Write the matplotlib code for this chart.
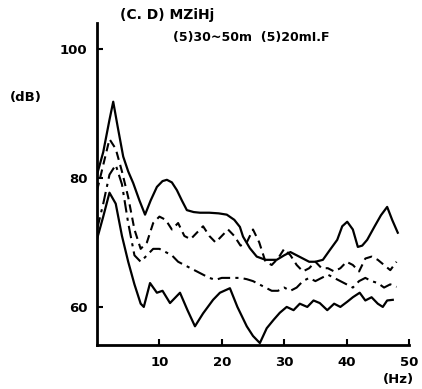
import matplotlib
matplotlib.use("Agg")
import matplotlib.pyplot as plt

# Frequency (Hz) / level (dB) pairs for each spectrum
freq_a = [0, 1, 2, 2.6, 3.3, 4.2, 5, 5.8, 6.8, 7.7, 8.6, 9.6, 10.5, 11.2, 12, 12.8, 13.6, 14.4,
          15.5, 16.5, 18, 19.5, 20.8, 22, 22.9, 23.4, 24.5, 25.6, 27, 28.8, 30, 31, 32, 33, 34,
          35, 36.2, 37.3, 38.5, 39.3, 40.1, 41, 41.8, 42.5, 43.3, 44.5, 45.5, 46.5, 47.3, 48.2]
level_a = [80.5, 84, 89, 91.8, 88, 83.3, 81, 79.2, 76.5, 74.3, 76.5, 78.6, 79.5, 79.7, 79.3, 78.1,
           76.5, 75, 74.7, 74.6, 74.6, 74.5, 74.3, 73.5, 72.4, 70.9, 69.1, 67.8, 67.3, 67.3, 68,
           68.5, 68, 67.5, 67, 67, 67.3, 68.8, 70.4, 72.5, 73.2, 72, 69.3, 69.5, 70.4, 72.5, 74.2,
           75.5, 73.5, 71.5]

freq_b = [0, 1, 2, 3, 4, 5, 6, 7, 8, 9, 10, 11, 12, 13, 14, 15, 16, 17, 18, 19, 20, 21, 22, 23,
          24, 25, 26, 27, 28, 29, 30, 31, 32, 33, 34, 35, 36, 37, 38, 39, 40, 41, 42, 43, 44, 45,
          46, 47, 48]
level_b = [78, 82, 86, 84.5, 81, 77, 72, 69, 70, 73, 74, 73.5, 72, 73, 71, 70.5, 71.5, 72.5, 71,
           70, 71, 72, 71, 69.5, 70, 72, 70, 67, 66.5, 67.5, 69, 68, 66.5, 65.5, 66, 67, 66, 66,
           65.5, 66, 67, 66.5, 65.5, 67.5, 67.8, 67.3, 66.5, 65.7, 67]

freq_c = freq_b
level_c = [72, 76, 80.5, 82, 79, 73, 68, 67, 68, 69, 69, 68.5, 68, 67, 66.5, 66, 65.5, 65, 64.5,
           64.2, 64.5, 64.5, 64.5, 64.5, 64.3, 64, 63.5, 63, 62.5, 62.5, 63, 62.5, 63, 64, 64.5,
           64, 64.5, 65, 64.5, 64, 63.5, 63, 64, 64.5, 64, 63.7, 63, 63.5, 63.1]

freq_d = [0, 1, 2, 3, 4, 5, 6, 7, 7.5, 8.5, 9.6, 10.5, 11.7, 13.3, 14.5, 15.7, 17, 18.6, 19.7,
          21.3, 22.5, 24, 25, 26.1, 27.2, 28.3, 29.3, 30.4, 31.5, 32.5, 33.7, 34.7, 35.7, 36.9,
          38, 39, 40.1, 41, 42.1, 43, 44, 45, 45.8, 46.5, 47.4]
level_d = [70.5, 74, 77.7, 76, 71, 67, 63.5, 60.5, 60, 63.7, 62.2, 62.5, 60.6, 62.2, 59.5, 57,
           59, 61.1, 62.2, 62.9, 60, 57, 55.5, 54.4, 56.7, 58, 59.1, 60, 59.5, 60.5, 60, 61, 60.6,
           59.5, 60.5, 60, 60.8, 61.5, 62.2, 61, 61.5, 60.5, 60, 61, 61.1]

x_ticks = [10, 20, 30, 40, 50]
y_ticks = [60, 80, 100]

title_text = "(C. D) MZiHj"
legend_text = "(5)30~50m  (5)20mI.F"

fig = plt.figure(figsize=(4.22, 3.89), dpi=100)
ax = fig.add_axes([97 / 422, 1 - 345 / 389, 312 / 422, 322 / 389])

ink = "black"
ax.plot(freq_a, level_a, color=ink, lw=1.6, solid_joinstyle="round")
ax.plot(freq_b, level_b, color=ink, lw=1.5, linestyle=(0, (4, 2.5)))
ax.plot(freq_c, level_c, color=ink, lw=1.5, linestyle=(0, (6, 2.5, 1.5, 2.5)))
ax.plot(freq_d, level_d, color=ink, lw=1.6, solid_joinstyle="round")

ax.set_xlim(0, 50)
ax.set_ylim(54.1, 104)
ax.set_xticks(x_ticks)
ax.set_yticks(y_ticks)
ax.set_xticklabels([str(v) for v in x_ticks])
ax.set_yticklabels([str(v) for v in y_ticks])

for side in ("top", "right"):
    ax.spines[side].set_visible(False)
for side in ("left", "bottom"):
    ax.spines[side].set_linewidth(2.0)

ax.tick_params(direction="in", length=4, width=1.5, labelsize=9.5, colors=ink)
ax.tick_params(axis="y", pad=7)
ax.tick_params(axis="x", pad=8)
for lbl in ax.get_xticklabels() + ax.get_yticklabels():
    lbl.set_fontweight("bold")

fig.text(120 / 422, 1 - 15 / 389, title_text, fontsize=10, fontweight="bold",
         va="center", ha="left")
fig.text(173 / 422, 1 - 37 / 389, legend_text, fontsize=9, fontweight="bold",
         va="center", ha="left")
fig.text(10 / 422, 1 - 98 / 389, "(dB)", fontsize=9.5, fontweight="bold",
         va="center", ha="left")
fig.text(398 / 422, 1 - 380 / 389, "(Hz)", fontsize=9.5, fontweight="bold",
         va="center", ha="center")

fig.savefig("out.png", dpi=100, facecolor="white")
